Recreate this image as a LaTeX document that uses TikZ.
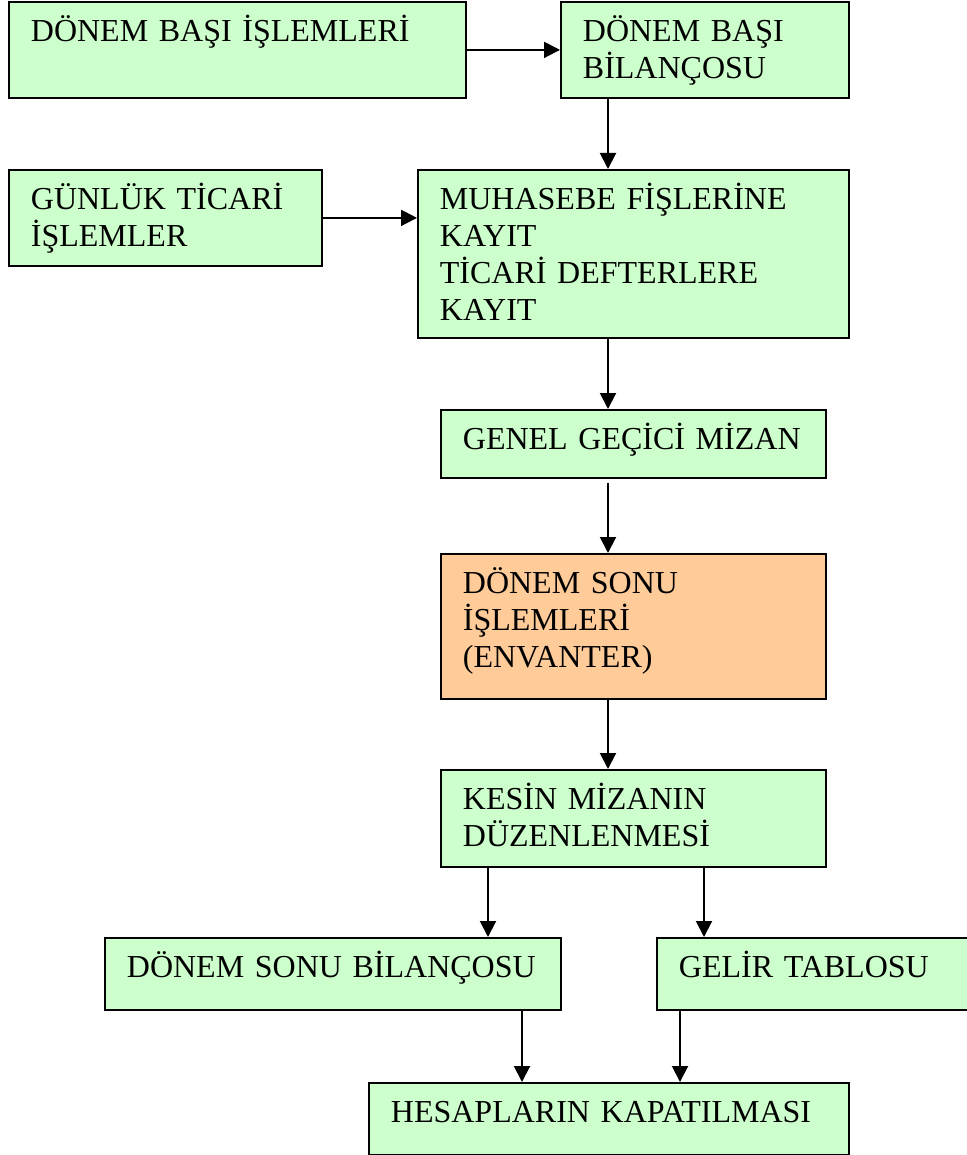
\documentclass[tikz,border=0pt]{standalone}
\usepackage{fontspec}
\setmainfont{Liberation Serif}
\usetikzlibrary{arrows.meta}

\definecolor{boxgreen}{HTML}{CCFFCC}
\definecolor{boxorange}{HTML}{FFCC99}

\tikzset{
  box/.style={draw=black, line width=1.8pt, fill=boxgreen, anchor=north west,
    inner xsep=22pt, inner ysep=0pt, align=left, text height=40pt,
    font=\fontsize{32}{36.8}\selectfont},
  arr/.style={line width=2pt, -{Triangle[length=16pt,width=16pt]}}
}

\begin{document}
\begin{tikzpicture}[x=1pt,y=-1pt,line join=miter]
  \useasboundingbox (0,0) rectangle (966,1155);
  % top row
  \node[box, text width=413pt, text depth=56pt] (dbi) at (8,1) {DÖNEM BAŞI İŞLEMLERİ};
  \node[box, text width=244pt, text depth=56pt] (dbb) at (560,1) {DÖNEM BAŞI\\BİLANÇOSU};
  % second row
  \node[box, text width=269pt, text depth=56pt] (gti) at (8,169) {GÜNLÜK TİCARİ\\İŞLEMLER};
  \node[box, text width=387pt, text depth=128pt] (mfk) at (417,169)
    {MUHASEBE FİŞLERİNE\\KAYIT\\TİCARİ DEFTERLERE\\KAYIT};
  % middle column
  \node[box, text width=341pt, text depth=28pt] (ggm) at (440,409) {GENEL GEÇİCİ MİZAN};
  \node[box, fill=boxorange, text width=341pt, text depth=105pt] (dsi) at (440,553)
    {DÖNEM SONU\\İŞLEMLERİ\\(ENVANTER)};
  \node[box, text width=341pt, text depth=57pt] (kmd) at (440,769) {KESİN MİZANIN\\DÜZENLENMESİ};
  % bottom rows
  \node[box, text width=412pt, text depth=32pt] (dsb) at (104,937) {DÖNEM SONU BİLANÇOSU};
  \node[box, text width=300pt, text depth=32pt] (gtb) at (656,937) {GELİR TABLOSU};
  \node[box, text width=436pt, text depth=32pt] (hkp) at (368,1082) {HESAPLARIN KAPATILMASI};

  \coordinate (col) at (608,0);
  \coordinate (lcol) at (488,0);
  \coordinate (rcol) at (704,0);
  \coordinate (lin) at (522,0);
  \coordinate (rin) at (680,0);

  \draw[arr] (dbi.east) -- (dbb.west);
  \draw[arr] (gti.east) -- (gti.east -| mfk.west);
  \draw[arr] (dbb.south -| col) -- (mfk.north -| col);
  \draw[arr] (mfk.south -| col) -- (ggm.north -| col);
  \draw[arr] ([yshift=-4pt]ggm.south -| col) -- (dsi.north -| col);
  \draw[arr] (dsi.south -| col) -- (kmd.north -| col);
  \draw[arr] (kmd.south -| lcol) -- (dsb.north -| lcol);
  \draw[arr] (kmd.south -| rcol) -- (gtb.north -| rcol);
  \draw[arr] (dsb.south -| lin) -- (hkp.north -| lin);
  \draw[arr] (gtb.south -| rin) -- (hkp.north -| rin);
\end{tikzpicture}
\end{document}
